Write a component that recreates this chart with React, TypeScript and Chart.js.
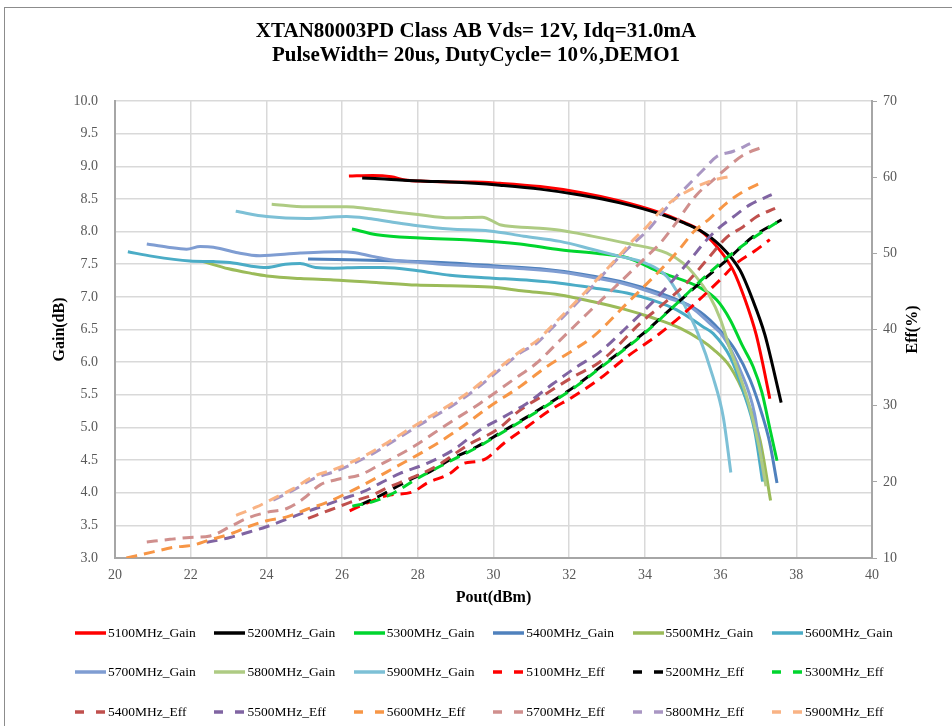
import React, { useEffect, useRef } from 'react';
import { Chart, registerables } from 'chart.js';

Chart.register(...registerables);

type Pt = [number, number];

const FONT = "'Liberation Serif', 'Times New Roman', serif";

const titleLines = [
  'XTAN80003PD Class AB Vds= 12V, Idq=31.0mA',
  'PulseWidth= 20us, DutyCycle= 10%,DEMO1',
];

// Gain curves (Pout dBm, Gain dB)
const gain5100: Pt[] = [[26.18, 8.85], [26.8, 8.86], [27.3, 8.84], [27.66, 8.79], [28.2, 8.77], [28.85, 8.76], [29.5, 8.76], [30.17, 8.74], [31.23, 8.69], [32.29, 8.6], [33.34, 8.47], [34.4, 8.29], [35.0, 8.15], [35.45, 8.02], [35.9, 7.77], [36.33, 7.41], [36.65, 6.95], [36.94, 6.42], [37.13, 5.93], [37.3, 5.44]];
const gain5200: Pt[] = [[26.53, 8.82], [27.0, 8.81], [27.53, 8.79], [28.2, 8.77], [28.85, 8.76], [29.5, 8.74], [30.17, 8.71], [31.23, 8.65], [32.29, 8.56], [33.34, 8.44], [34.4, 8.27], [35.0, 8.14], [35.45, 8.02], [35.98, 7.79], [36.51, 7.41], [36.85, 6.95], [37.17, 6.42], [37.38, 5.93], [37.6, 5.38]];
const gain5300: Pt[] = [[26.26, 8.04], [26.92, 7.95], [28.06, 7.9], [29.38, 7.87], [30.7, 7.81], [31.76, 7.72], [32.81, 7.66], [33.53, 7.6], [34.4, 7.38], [35.46, 7.14], [35.9, 6.95], [36.25, 6.65], [36.57, 6.26], [36.86, 5.93], [37.09, 5.54], [37.31, 4.96], [37.49, 4.49]];
const gain5400: Pt[] = [[25.1, 7.58], [26.21, 7.57], [27.53, 7.55], [28.85, 7.52], [30.17, 7.47], [31.23, 7.43], [32.29, 7.35], [33.53, 7.21], [34.66, 7.0], [35.46, 6.77], [35.98, 6.49], [36.38, 6.19], [36.78, 5.73], [37.1, 5.19], [37.3, 4.76], [37.49, 4.15]];
const gain5500: Pt[] = [[22.33, 7.54], [23.0, 7.43], [23.6, 7.36], [24.01, 7.32], [24.9, 7.28], [25.77, 7.26], [26.9, 7.22], [27.97, 7.18], [28.85, 7.17], [29.9, 7.15], [30.8, 7.09], [31.76, 7.03], [32.6, 6.93], [33.4, 6.82], [34.2, 6.68], [34.93, 6.52], [35.5, 6.33], [35.8, 6.2], [36.25, 5.93], [36.69, 5.42], [37.04, 4.81], [37.32, 3.88]];
const gain5600: Pt[] = [[20.34, 7.69], [21.0, 7.62], [21.98, 7.55], [22.6, 7.54], [23.12, 7.52], [23.6, 7.47], [24.01, 7.45], [24.5, 7.5], [24.89, 7.51], [25.3, 7.45], [25.77, 7.44], [26.5, 7.45], [27.09, 7.45], [28.0, 7.4], [28.85, 7.33], [29.9, 7.29], [31.0, 7.25], [31.76, 7.21], [32.6, 7.14], [33.52, 7.06], [34.2, 6.95], [34.84, 6.8], [35.54, 6.54], [35.8, 6.44], [36.25, 6.08], [36.6, 5.55], [36.9, 4.95], [37.11, 4.17]];
const gain5700: Pt[] = [[20.84, 7.81], [21.4, 7.76], [21.89, 7.73], [22.25, 7.77], [22.6, 7.76], [23.2, 7.68], [23.83, 7.63], [24.9, 7.67], [25.94, 7.69], [26.29, 7.68], [26.8, 7.62], [27.27, 7.57], [28.0, 7.53], [28.85, 7.49], [29.9, 7.46], [30.8, 7.43], [31.76, 7.38], [32.6, 7.3], [33.52, 7.19], [34.67, 6.97], [35.2, 6.85], [35.7, 6.6], [36.07, 6.39], [36.5, 5.9], [36.9, 5.2], [37.15, 4.2]];
const gain5800: Pt[] = [[24.14, 8.42], [25.06, 8.38], [26.12, 8.38], [26.7, 8.35], [27.27, 8.31], [28.0, 8.26], [28.85, 8.21], [29.7, 8.22], [30.2, 8.1], [31.0, 8.06], [31.76, 8.02], [32.6, 7.93], [33.52, 7.82], [34.58, 7.67], [35.0, 7.52], [35.28, 7.36], [35.72, 7.0], [36.0, 6.65], [36.25, 6.2], [36.5, 5.8], [36.75, 5.35], [37.0, 4.75], [37.2, 4.1]];
const gain5900: Pt[] = [[23.19, 8.31], [24.01, 8.23], [25.06, 8.2], [26.12, 8.23], [26.7, 8.2], [27.27, 8.15], [28.0, 8.09], [28.85, 8.04], [29.9, 8.01], [30.8, 7.93], [31.76, 7.85], [32.6, 7.73], [33.34, 7.62], [34.04, 7.51], [34.58, 7.31], [35.02, 6.9], [35.4, 6.44], [35.8, 5.77], [36.07, 5.16], [36.27, 4.31]];

// Efficiency curves (Pout dBm, Eff %)
const eff5100: Pt[] = [[26.2, 16.2], [26.65, 17.2], [27.18, 18.2], [27.88, 18.7], [28.23, 19.8], [28.85, 21.1], [29.2, 22.4], [29.6, 22.7], [29.82, 23.1], [30.26, 25.0], [30.88, 27.2], [31.49, 29.4], [32.11, 31.2], [32.77, 33.4], [33.52, 36.4], [34.4, 39.5], [35.28, 43.2], [35.98, 46.5], [36.42, 48.7], [36.9, 50.3], [37.3, 51.8]];
const eff5200: Pt[] = [[26.5, 17.0], [27.09, 18.4], [27.53, 19.6], [27.97, 20.7], [28.23, 21.1], [28.85, 22.9], [29.56, 24.6], [30.17, 26.4], [30.88, 28.5], [31.5, 30.4], [32.2, 32.7], [32.7, 34.6], [33.96, 39.5], [34.84, 43.4], [35.54, 46.5], [36.16, 49.1], [36.86, 52.2], [37.61, 54.4]];
const eff5300: Pt[] = [[26.27, 16.8], [26.82, 17.4], [27.35, 18.5], [27.97, 20.4], [28.85, 22.7], [29.56, 24.5], [30.17, 26.3], [30.88, 28.4], [31.5, 30.3], [32.2, 32.6], [32.7, 34.5], [33.96, 39.4], [34.84, 43.4], [35.54, 46.7], [36.16, 49.4], [36.86, 52.0], [37.5, 54.1]];
const eff5400: Pt[] = [[25.1, 15.2], [25.68, 16.3], [26.21, 17.3], [26.82, 18.3], [27.18, 19.2], [27.53, 19.9], [28.4, 21.8], [29.38, 25.0], [30.08, 26.8], [30.7, 29.4], [31.4, 31.6], [32.11, 33.8], [32.77, 35.6], [33.25, 37.7], [33.87, 40.8], [34.4, 43.0], [35.1, 46.1], [35.63, 49.1], [36.16, 52.1], [36.6, 53.5], [36.95, 54.8], [37.44, 55.9]];
const eff5500: Pt[] = [[22.42, 12.05], [23.04, 12.7], [23.57, 13.45], [24.0, 14.1], [24.54, 15.1], [25.07, 16.1], [25.6, 17.0], [26.03, 17.8], [26.56, 18.7], [27.0, 19.8], [27.53, 21.1], [28.23, 22.4], [28.94, 24.2], [29.64, 26.8], [30.26, 28.5], [30.88, 30.3], [31.58, 32.9], [32.2, 35.1], [32.77, 36.9], [33.5, 40.2], [34.4, 44.6], [35.19, 49.1], [35.55, 51.3], [35.9, 53.1], [36.34, 54.8], [36.78, 56.4], [37.35, 57.7]];
const eff5600: Pt[] = [[20.3, 10.0], [21.01, 10.8], [21.54, 11.4], [22.07, 11.7], [22.51, 12.4], [23.04, 13.15], [23.57, 14.2], [24.01, 14.9], [24.54, 15.4], [25.07, 16.4], [25.6, 17.3], [26.12, 18.5], [26.56, 19.6], [27.4, 21.9], [28.3, 24.4], [29.11, 27.0], [29.9, 29.9], [30.7, 32.5], [31.4, 35.1], [32.11, 37.3], [32.64, 39.1], [33.5, 43.3], [34.58, 48.7], [34.93, 50.65], [35.28, 52.8], [35.72, 54.6], [36.16, 56.6], [36.6, 58.1], [37.13, 59.4]];
const eff5700: Pt[] = [[20.84, 12.1], [21.45, 12.45], [21.98, 12.7], [22.51, 12.9], [23.04, 14.1], [23.48, 15.2], [24.01, 16.0], [24.54, 16.5], [24.98, 17.8], [25.42, 19.6], [25.86, 20.3], [26.47, 20.9], [26.91, 22.0], [27.88, 24.6], [28.76, 27.5], [29.64, 30.3], [30.52, 33.4], [31.14, 35.6], [31.76, 38.6], [32.5, 42.2], [33.3, 46.0], [34.05, 49.6], [34.4, 51.3], [34.75, 53.5], [35.37, 57.7], [35.8, 59.6], [36.16, 61.2], [36.6, 62.9], [37.13, 64.0]];
const eff5800: Pt[] = [[24.18, 17.6], [24.71, 18.9], [25.24, 20.4], [25.77, 21.3], [26.21, 22.2], [26.74, 23.5], [27.18, 24.8], [28.06, 27.5], [28.94, 30.1], [29.38, 31.6], [30.26, 35.1], [30.7, 36.9], [31.14, 38.2], [31.49, 39.9], [32.4, 44.5], [33.34, 49.6], [33.74, 51.5], [34.09, 53.1], [34.49, 55.5], [34.84, 57.4], [35.19, 59.2], [35.55, 61.0], [35.9, 62.7], [36.34, 63.4], [36.78, 64.4]];
const eff5900: Pt[] = [[23.2, 15.6], [23.74, 16.7], [24.18, 17.8], [24.71, 19.1], [25.24, 20.7], [25.77, 21.6], [26.21, 22.5], [26.74, 23.8], [27.18, 25.1], [28.06, 27.8], [28.94, 30.4], [29.38, 31.9], [30.26, 35.4], [30.7, 37.1], [31.14, 38.5], [31.49, 40.2], [32.4, 44.8], [33.34, 49.8], [33.7, 51.8], [34.05, 53.5], [34.4, 55.5], [34.75, 57.0], [35.3, 58.6], [35.81, 59.6], [36.25, 60.1]];

const seriesLabels = [
  '5100MHz_Gain', '5200MHz_Gain', '5300MHz_Gain', '5400MHz_Gain', '5500MHz_Gain', '5600MHz_Gain',
  '5700MHz_Gain', '5800MHz_Gain', '5900MHz_Gain',
  '5100MHz_Eff', '5200MHz_Eff', '5300MHz_Eff', '5400MHz_Eff', '5500MHz_Eff', '5600MHz_Eff',
  '5700MHz_Eff', '5800MHz_Eff', '5900MHz_Eff',
];
const seriesData: Pt[][] = [
  gain5100, gain5200, gain5300, gain5400, gain5500, gain5600, gain5700, gain5800, gain5900,
  eff5100, eff5200, eff5300, eff5400, eff5500, eff5600, eff5700, eff5800, eff5900,
];
const seriesColors = [
  '#FF0000', '#000000', '#00D52E', '#4F81BD', '#9BBB59', '#4BACC6', '#7F9DD2', '#AECB83', '#7DC0D6',
  '#FF0000', '#000000', '#00D52E', '#C0504D', '#8064A2', '#F79646', '#D08F8D', '#A996C3', '#F9B384',
];
const seriesIsEff = seriesLabels.map((l) => l.endsWith('_Eff'));

const TICK_COLOR = '#595959';
const GRID_COLOR = '#d9d9d9';
const AXIS_COLOR = '#a6a6a6';

const effTitlePlugin = {
  id: 'effTitle',
  afterDraw(chart: any) {
    const { ctx, chartArea } = chart;
    const s = chart.scales.y2;
    ctx.save();
    ctx.translate(s.right - 39, (chartArea.top + chartArea.bottom) / 2);
    ctx.rotate(-Math.PI / 2);
    ctx.font = `bold 16px ${FONT}`;
    ctx.fillStyle = '#000';
    ctx.textAlign = 'center';
    ctx.textBaseline = 'middle';
    ctx.fillText('Eff(%)', 0, 0);
    ctx.restore();
  },
};

function LegendSample({ color, dashed }: { color: string; dashed: boolean }) {
  return (
    <svg width={32} height={10} style={{ display: 'block', flex: '0 0 auto' }}>
      <line x1={0} y1={5} x2={31} y2={5} stroke={color} strokeWidth={3.5}
        strokeDasharray={dashed ? '9 12' : undefined} />
    </svg>
  );
}

export default function App() {
  const canvasRef = useRef<HTMLCanvasElement | null>(null);

  useEffect(() => {
    const canvas = canvasRef.current;
    if (!canvas) return;
    const n = seriesLabels.length;
    const chart = new Chart(canvas, {
      type: 'line',
      data: {
        datasets: seriesLabels.map((label, i) => ({
          label,
          data: seriesData[i].map(([x, y]) => ({ x, y })),
          borderColor: seriesColors[i],
          backgroundColor: seriesColors[i],
          borderWidth: 3,
          borderDash: seriesIsEff[i] ? [11, 7] : [],
          borderCapStyle: 'butt',
          pointRadius: 0,
          pointHoverRadius: 0,
          cubicInterpolationMode: 'monotone',
          fill: false,
          yAxisID: seriesIsEff[i] ? 'y2' : 'y',
          order: n - i,
        })) as any,
      },
      options: {
        responsive: false,
        animation: false,
        parsing: true,
        layout: { padding: 0 },
        plugins: {
          legend: { display: false },
          tooltip: { enabled: false },
          title: {
            display: true,
            text: titleLines,
            color: '#000',
            font: { family: FONT, size: 21, weight: 'bold', lineHeight: 24 / 21 },
            padding: { top: 20, bottom: 33 },
          },
        },
        scales: {
          x: {
            type: 'linear',
            min: 20,
            max: 40,
            ticks: { stepSize: 2, color: TICK_COLOR, font: { family: FONT, size: 14 }, padding: 8.6, maxRotation: 0 },
            grid: { color: GRID_COLOR, lineWidth: 1.5, drawTicks: false },
            border: { display: true, color: AXIS_COLOR, width: 2 },
            title: {
              display: true,
              text: 'Pout(dBm)',
              color: '#000',
              font: { family: FONT, size: 16, weight: 'bold' },
              padding: { top: 0, bottom: 12.4 },
            },
            afterFit: (s: any) => { s.height = 62; },
          },
          y: {
            type: 'linear',
            position: 'left',
            min: 3,
            max: 10,
            ticks: {
              stepSize: 0.5,
              color: TICK_COLOR,
              font: { family: FONT, size: 14 },
              padding: 17,
              callback: (v: any) => Number(v).toFixed(1),
            },
            grid: { color: GRID_COLOR, lineWidth: 1.5, drawTicks: false },
            border: { display: true, color: AXIS_COLOR, width: 2 },
            title: {
              display: true,
              text: 'Gain(dB)',
              color: '#000',
              font: { family: FONT, size: 16, weight: 'bold' },
              padding: { top: 50.4, bottom: 0 },
            },
            afterFit: (s: any) => { s.width = 115; },
          },
          y2: {
            type: 'linear',
            position: 'right',
            min: 10,
            max: 70,
            ticks: { stepSize: 10, color: TICK_COLOR, font: { family: FONT, size: 14 }, padding: 6 },
            grid: { drawOnChartArea: false, drawTicks: true, tickLength: 5, color: AXIS_COLOR, lineWidth: 1 },
            border: { display: true, color: AXIS_COLOR, width: 2 },
            afterFit: (s: any) => { s.width = 80; },
          },
        },
      } as any,
      plugins: [effTitlePlugin],
    });
    return () => chart.destroy();
  }, []);

  return (
    <div style={{ position: 'absolute', left: 0, top: 0, width: 952, height: 726, overflow: 'hidden', background: '#fff' }}>
      <div style={{
        position: 'absolute', left: 4, top: 7, width: 950, height: 730,
        borderLeft: '1px solid #8c8c8c', borderTop: '1px solid #8c8c8c', boxSizing: 'border-box',
      }} />
      <canvas ref={canvasRef} width={952} height={620}
        style={{ position: 'absolute', left: 0, top: 0, width: 952, height: 620 }} />
      <div style={{
        position: 'absolute', left: 75, top: 613,
        display: 'grid', gridTemplateColumns: 'repeat(6, 139.4px)', gridAutoRows: '39.5px',
        fontFamily: FONT, fontSize: 13.5, color: '#000',
      }}>
        {seriesLabels.map((label, i) => (
          <div key={label} style={{ display: 'flex', alignItems: 'center', whiteSpace: 'nowrap' }}>
            <LegendSample color={seriesColors[i]} dashed={seriesIsEff[i]} />
            <span style={{ marginLeft: 1 }}>{label}</span>
          </div>
        ))}
      </div>
    </div>
  );
}
